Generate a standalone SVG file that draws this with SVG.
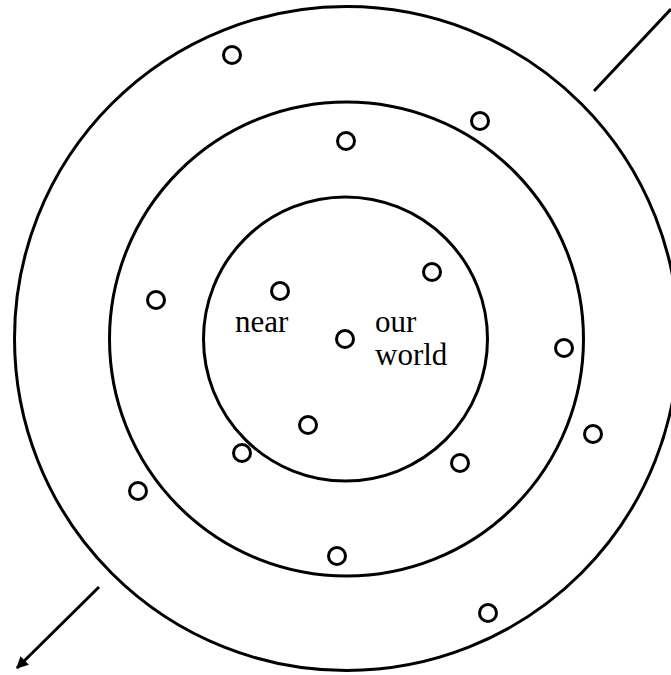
<svg xmlns="http://www.w3.org/2000/svg" width="671" height="675" viewBox="0 0 671 675">
<style>
.ring{fill:none;stroke:#000;stroke-width:3}
.dot{fill:none;stroke:#000;stroke-width:3}
.lbl{font-family:"Liberation Serif","Times New Roman",serif;font-size:31px;fill:#000}
.conn{stroke:#000;stroke-width:3;fill:none}
</style>
<defs>
<marker id="ah" viewBox="0 0 10 10" refX="9" refY="5" markerWidth="5" markerHeight="4" orient="auto" markerUnits="strokeWidth">
<path d="M0,0 L10,5 L0,10 z" fill="#000"/>
</marker>
</defs>
<rect width="671" height="675" fill="#fff"/>
<g id="rings">
<circle id="outer" class="ring" cx="346.5" cy="338.5" r="332"/>
<circle id="middle" class="ring" cx="346.5" cy="339" r="237"/>
<circle id="inner" class="ring" cx="345.5" cy="339" r="142"/>
</g>
<g id="connectors">
<line class="conn" x1="594" y1="91" x2="671" y2="9"/>
<line class="conn" x1="99" y1="587" x2="17" y2="668" marker-end="url(#ah)"/>
</g>
<g id="dots">
<circle class="dot" cx="232" cy="55" r="8.5"/>
<circle class="dot" cx="346" cy="141" r="8.5"/>
<circle class="dot" cx="480" cy="121" r="8.5"/>
<circle class="dot" cx="156" cy="300" r="8.5"/>
<circle class="dot" cx="280" cy="291" r="8.5"/>
<circle class="dot" cx="432" cy="272" r="8.5"/>
<circle class="dot" cx="345" cy="339" r="8.5"/>
<circle class="dot" cx="564" cy="348" r="8.5"/>
<circle class="dot" cx="308" cy="425" r="8.5"/>
<circle class="dot" cx="242" cy="453" r="8.5"/>
<circle class="dot" cx="460" cy="463" r="8.5"/>
<circle class="dot" cx="593" cy="434" r="8.5"/>
<circle class="dot" cx="138" cy="491" r="8.5"/>
<circle class="dot" cx="337" cy="556" r="8.5"/>
<circle class="dot" cx="488" cy="613" r="8.5"/>
</g>
<g id="labels">
<text class="lbl" x="235" y="332">near</text>
<text class="lbl" x="375" y="332">our</text>
<text class="lbl" x="375" y="365">world</text>
</g>
</svg>
